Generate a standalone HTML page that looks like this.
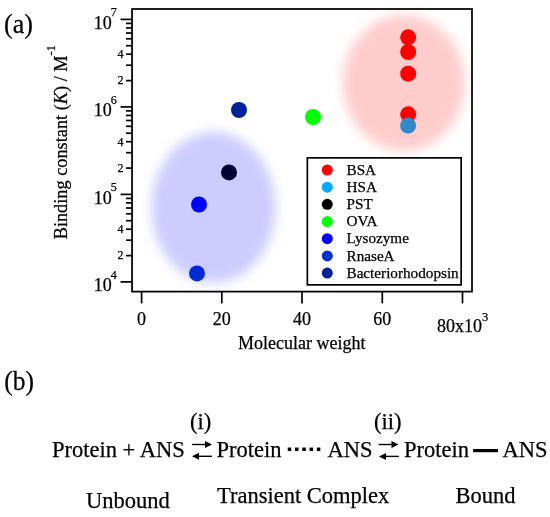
<!DOCTYPE html>
<html><head><meta charset="utf-8">
<style>
html,body{margin:0;padding:0;background:#fff;width:550px;height:517px;overflow:hidden}
svg{display:block;will-change:transform}
text{font-family:"Liberation Serif",serif;fill:#000;stroke:#000;stroke-width:0.25px}
</style></head>
<body>
<svg width="550" height="517" viewBox="0 0 550 517">
<defs>
<filter id="blurR" x="-30%" y="-30%" width="160%" height="160%"><feGaussianBlur stdDeviation="6"/></filter>
<filter id="blurB" x="-30%" y="-30%" width="160%" height="160%"><feGaussianBlur stdDeviation="6"/></filter>
</defs>

<!-- panel labels -->
<text transform="translate(4,32.5) scale(1,1.06)" font-size="26">(a)</text>
<text transform="translate(4.3,389.5) scale(0.98,1.05)" font-size="26">(b)</text>

<!-- data points -->
<g>
<circle cx="408.2" cy="37.3" r="8" fill="#ff0000"/>
<circle cx="408.2" cy="52" r="8" fill="#ff0000"/>
<circle cx="408.2" cy="73.7" r="8" fill="#ff0000"/>
<circle cx="408.2" cy="114.3" r="8" fill="#ff0000"/>
<circle cx="408.1" cy="125.5" r="8" fill="#00aaff"/>
<circle cx="313" cy="117" r="8" fill="#00ff00"/>
<circle cx="239" cy="110" r="8" fill="#002299"/>
<circle cx="229" cy="172.4" r="8" fill="#000000"/>
<circle cx="199" cy="204.5" r="8" fill="#0000ff"/>
<circle cx="197" cy="273.4" r="8" fill="#0033cc"/>
</g>

<!-- glows -->
<ellipse cx="403.5" cy="82.8" rx="61" ry="67.8" fill="#ff0000" fill-opacity="0.2" filter="url(#blurR)"/>
<ellipse cx="213.4" cy="207.5" rx="62" ry="75.5" fill="#0000ff" fill-opacity="0.2" filter="url(#blurB)"/>

<!-- frame -->
<rect x="132.05" y="9" width="339.95" height="282.6" fill="none" stroke="#000" stroke-width="1.75"/>

<!-- y ticks -->
<g stroke="#000" stroke-width="1.7">
<line x1="120.5" y1="19.4" x2="132" y2="19.4"/>
<line x1="126" y1="80.6" x2="132" y2="80.6"/>
<line x1="126" y1="65.2" x2="132" y2="65.2"/>
<line x1="126" y1="54.2" x2="132" y2="54.2"/>
<line x1="126" y1="45.7" x2="132" y2="45.7"/>
<line x1="126" y1="38.8" x2="132" y2="38.8"/>
<line x1="126" y1="33.0" x2="132" y2="33.0"/>
<line x1="126" y1="27.9" x2="132" y2="27.9"/>
<line x1="126" y1="23.4" x2="132" y2="23.4"/>
<line x1="120.5" y1="106.9" x2="132" y2="106.9"/>
<line x1="126" y1="168.1" x2="132" y2="168.1"/>
<line x1="126" y1="152.7" x2="132" y2="152.7"/>
<line x1="126" y1="141.7" x2="132" y2="141.7"/>
<line x1="126" y1="133.2" x2="132" y2="133.2"/>
<line x1="126" y1="126.3" x2="132" y2="126.3"/>
<line x1="126" y1="120.5" x2="132" y2="120.5"/>
<line x1="126" y1="115.4" x2="132" y2="115.4"/>
<line x1="126" y1="110.9" x2="132" y2="110.9"/>
<line x1="120.5" y1="194.4" x2="132" y2="194.4"/>
<line x1="126" y1="255.6" x2="132" y2="255.6"/>
<line x1="126" y1="240.2" x2="132" y2="240.2"/>
<line x1="126" y1="229.2" x2="132" y2="229.2"/>
<line x1="126" y1="220.7" x2="132" y2="220.7"/>
<line x1="126" y1="213.8" x2="132" y2="213.8"/>
<line x1="126" y1="208.0" x2="132" y2="208.0"/>
<line x1="126" y1="202.9" x2="132" y2="202.9"/>
<line x1="126" y1="198.4" x2="132" y2="198.4"/>
<line x1="120.5" y1="281.9" x2="132" y2="281.9"/>
</g>
<!-- x ticks -->
<g stroke="#000" stroke-width="1.7">
<line x1="141.6" y1="291.6" x2="141.6" y2="303.4"/>
<line x1="221.8" y1="291.6" x2="221.8" y2="303.4"/>
<line x1="302" y1="291.6" x2="302" y2="303.4"/>
<line x1="382.3" y1="291.6" x2="382.3" y2="303.4"/>
<line x1="462.5" y1="291.6" x2="462.5" y2="303.4"/>
</g>

<!-- x tick labels -->
<g font-size="18" text-anchor="middle">
<text x="141.6" y="325.4">0</text>
<text x="221.8" y="325.4">20</text>
<text x="302" y="325.4">40</text>
<text x="382.3" y="325.4">60</text>
</g>
<text x="437" y="332" font-size="18">80x10<tspan font-size="12.5" dy="-11">3</tspan></text>

<!-- y tick labels -->
<g font-size="18">
<text x="93.8" y="28.6">10<tspan font-size="12" dx="-1" dy="-12.4">7</tspan></text>
<text x="93.8" y="116.3">10<tspan font-size="12" dx="-1" dy="-12.4">6</tspan></text>
<text x="93.8" y="203.8">10<tspan font-size="12" dx="-1" dy="-12.4">5</tspan></text>
<text x="93.8" y="291.3">10<tspan font-size="12" dx="-1" dy="-12.4">4</tspan></text>
</g>
<g font-size="12" text-anchor="end">
<text x="123.5" y="58.2">4</text>
<text x="123.5" y="84">2</text>
<text x="123.5" y="145.7">4</text>
<text x="123.5" y="171.5">2</text>
<text x="123.5" y="233.2">4</text>
<text x="123.5" y="259">2</text>
</g>

<!-- axis titles -->
<text x="238" y="349" font-size="18">Molecular weight</text>
<text transform="translate(67.4,239.3) rotate(-90)" font-size="18.3">Binding constant (<tspan font-style="italic">K</tspan>) / M<tspan font-size="12.5" dy="-12">-1</tspan></text>

<!-- legend -->
<rect x="307.35" y="157.85" width="153.8" height="127" fill="#fff" stroke="#000" stroke-width="1.7"/>
<g>
<circle cx="327.3" cy="170" r="5.5" fill="#ff0000"/>
<circle cx="327.3" cy="187.2" r="5.5" fill="#00aaff"/>
<circle cx="327.3" cy="204.3" r="5.5" fill="#000000"/>
<circle cx="327.3" cy="221.5" r="5.5" fill="#00ff00"/>
<circle cx="327.3" cy="238.7" r="5.5" fill="#0000ff"/>
<circle cx="327.3" cy="255.9" r="5.5" fill="#0033cc"/>
<circle cx="327.3" cy="273.1" r="5.5" fill="#002299"/>
</g>
<g font-size="15.2">
<text x="346.5" y="174.7">BSA</text>
<text x="346.5" y="191.9">HSA</text>
<text x="346.5" y="209">PST</text>
<text x="346.5" y="226.2">OVA</text>
<text x="346.5" y="243.4">Lysozyme</text>
<text x="346.5" y="260.6">RnaseA</text>
<text x="346.5" y="277.8">Bacteriorhodopsin</text>
</g>

<!-- scheme -->
<g font-size="22.5">
<text x="52" y="456.5">Protein + ANS</text>
<text x="190" y="428.9">(i)</text>
<text x="216.5" y="456.5">Protein</text>
<text x="327.5" y="456.5">ANS</text>
<text x="374" y="429.1">(ii)</text>
<text x="404" y="456.5">Protein</text>
<text x="502.5" y="456.5">ANS</text>
<text x="86" y="507.7">Unbound</text>
<text x="217" y="503.3">Transient Complex</text>
<text x="455.5" y="503.2">Bound</text>
</g>
<!-- arrows -->
<g stroke="#000" stroke-width="1.4" fill="#000">
<line x1="192.1" y1="444.5" x2="206" y2="444.5"/>
<path d="M212.1,444.5 L205,441 L205,448 Z" stroke="none"/>
<line x1="198" y1="456.3" x2="211.9" y2="456.3"/>
<path d="M192,456.3 L199,452.8 L199,459.8 Z" stroke="none"/>
<line x1="378.6" y1="444.5" x2="392.5" y2="444.5"/>
<path d="M398.5,444.5 L391.5,441 L391.5,448 Z" stroke="none"/>
<line x1="385" y1="456.4" x2="398.9" y2="456.4"/>
<path d="M379,456.4 L386,452.9 L386,459.9 Z" stroke="none"/>
</g>
<!-- dots -->
<g fill="#000">
<rect x="287.75" y="447.55" width="3.5" height="3.5"/>
<rect x="295.02" y="447.55" width="3.5" height="3.5"/>
<rect x="302.29" y="447.55" width="3.5" height="3.5"/>
<rect x="309.56" y="447.55" width="3.5" height="3.5"/>
<rect x="316.83" y="447.55" width="3.5" height="3.5"/>
</g>
<rect x="473.1" y="449" width="24.9" height="3.2" fill="#000"/>
</svg>
</body></html>
